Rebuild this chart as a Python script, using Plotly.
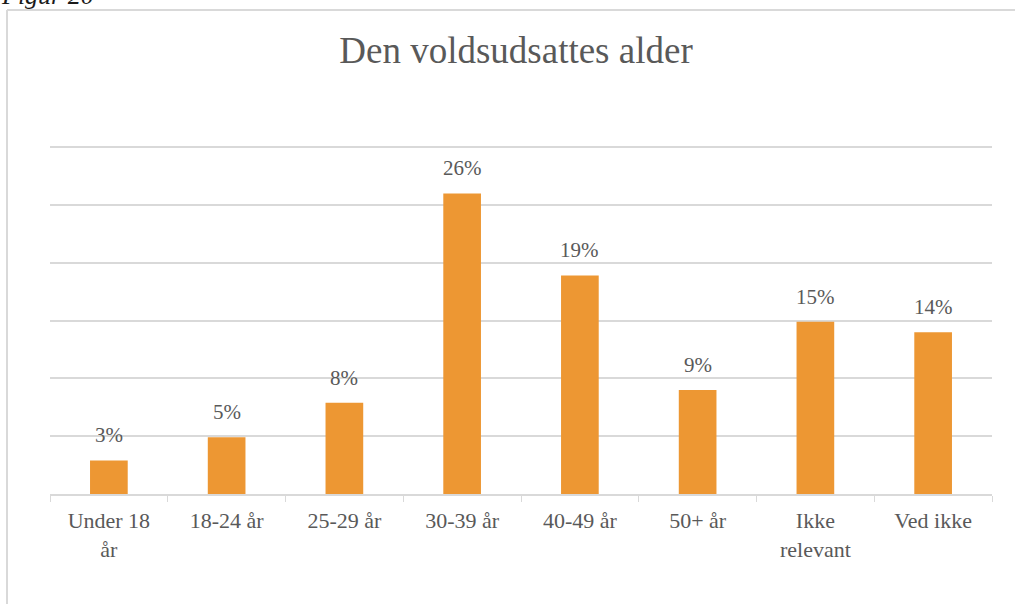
import plotly.graph_objects as go

# ---- Data -----------------------------------------------------------
CATEGORIES = ["Under 18<br>år", "18-24 år", "25-29 år", "30-39 år",
              "40-49 år", "50+ år", "Ikke<br>relevant", "Ved ikke"]
SHARES = [0.029, 0.049, 0.079, 0.260, 0.189, 0.090, 0.149, 0.140]
Y_TICKS = [0, 0.05, 0.10, 0.15, 0.20, 0.25, 0.30]

# ---- Theme tokens ---------------------------------------------------
BAR = "#ED9733"
FG = "#595959"
GRID = "#D9D9D9"
FONT = "Liberation Serif"

W, H = 1015, 604
L, R, T, B = 50, 23, 146, 110


def px_x(px):
    return (px - L) / (W - L - R)


def px_y(py):
    return (H - B - py) / (H - T - B)


fig = go.Figure(go.Bar(
    x=CATEGORIES, y=SHARES, width=0.32,
    marker=dict(color=BAR, line=dict(width=0)),
    hovertemplate="%{x}: %{y:.0%}<extra></extra>",
))

for cat, val in zip(CATEGORIES, SHARES):
    fig.add_annotation(
        x=cat, y=val, text=f"{val:.0%}", showarrow=False,
        yanchor="bottom", yshift=11,
        font=dict(family=FONT, size=21, color=FG),
    )

# partial figure caption, cut off at the top edge
fig.add_annotation(
    xref="paper", yref="paper", x=px_x(-1), y=px_y(-5),
    xanchor="left", yanchor="middle", text="Figur 20", showarrow=False,
    font=dict(family=FONT, size=26, color="#1a1a1a", style="italic"),
)

# chart frame (left and top edges visible)
fig.add_shape(type="line", xref="paper", yref="paper",
              x0=px_x(7), x1=px_x(7), y0=px_y(10), y1=px_y(610),
              line=dict(color=GRID, width=2))
fig.add_shape(type="line", xref="paper", yref="paper",
              x0=px_x(7), x1=px_x(1020), y0=px_y(10), y1=px_y(10),
              line=dict(color=GRID, width=2))

fig.update_layout(
    width=W, height=H,
    paper_bgcolor="white", plot_bgcolor="white",
    margin=dict(l=L, r=R, t=T, b=B),
    font=dict(family=FONT, color=FG, size=22),
    title=dict(text="Den voldsudsattes alder", x=516 / W, xanchor="center",
               y=1 - 50 / H, yanchor="middle",
               font=dict(family=FONT, size=37, color=FG)),
    showlegend=False,
)
fig.update_xaxes(
    showgrid=False, showline=True, linecolor=GRID, linewidth=1.5,
    ticks="outside", tickson="boundaries", ticklen=6, tickcolor=GRID,
    ticklabelstandoff=6, tickfont=dict(family=FONT, size=22, color=FG),
)
fig.update_yaxes(
    range=[0, 0.301], tickvals=Y_TICKS, showticklabels=False,
    showgrid=True, gridcolor=GRID, gridwidth=1.5, zeroline=False,
)

fig.write_html("out.html", config={"displayModeBar": False},
               post_script="document.body.style.margin='0';")
